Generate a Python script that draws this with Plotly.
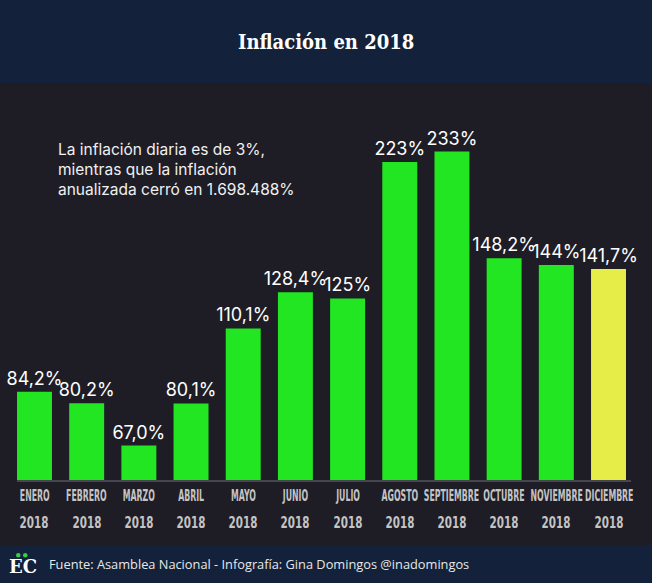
import json
import plotly.graph_objects as go

months = ["ENERO", "FEBRERO", "MARZO", "ABRIL", "MAYO", "JUNIO", "JULIO",
          "AGOSTO", "SEPTIEMBRE", "OCTUBRE", "NOVIEMBRE", "DICIEMBRE"]
years = ["2018"] * 12
values = [84.2, 80.2, 67.0, 80.1, 110.1, 128.4, 125, 223, 233, 148.2, 144, 141.7]
labels = ["84,2%", "80,2%", "67,0%", "80,1%", "110,1%", "128,4%", "125%",
          "223%", "233%", "148,2%", "144%", "141,7%"]
colors = ["#22e622"] * 11 + ["#e6ec48"]

W, H = 652, 583
BASE_PX = 480  # pixel row of the bar baseline
PLOT_BG = "#1e1d26"
BAND = "#13213a"
NARROW = "DejaVu Sans Condensed"

def py(px):
    """pixel row -> paper y (plot area spans pixel 0..BASE_PX)"""
    return (BASE_PX - px) / BASE_PX

fig = go.Figure()
fig.add_trace(go.Bar(
    x=months, y=values, marker=dict(color=colors, line=dict(width=0)),
    text=labels, textposition="outside", cliponaxis=False, constraintext="none",
    textfont=dict(family="Inter", size=18, color="#ffffff"),
    hoverinfo="skip",
))

shapes = [
    dict(type="rect", xref="paper", yref="paper", x0=0, x1=1, y0=py(83), y1=py(0),
         fillcolor=BAND, line=dict(width=0), layer="below"),
    dict(type="rect", xref="paper", yref="paper", x0=0, x1=1, y0=py(583), y1=py(545),
         fillcolor=BAND, line=dict(width=0), layer="below"),
    dict(type="line", xref="paper", yref="paper", x0=17 / W, x1=631 / W,
         y0=py(481), y1=py(481), line=dict(color="#55555c", width=1.5)),
    dict(type="circle", xref="paper", yref="paper", x0=16 / W, x1=20.5 / W,
         y0=py(557.5), y1=py(553), fillcolor="#3fc94a", line=dict(width=0)),
    dict(type="circle", xref="paper", yref="paper", x0=23 / W, x1=27.5 / W,
         y0=py(557.5), y1=py(553), fillcolor="#3fc94a", line=dict(width=0)),
]

annotations = [
    dict(text="<b>Inflación en 2018</b>", xref="paper", yref="paper", x=326 / W, y=py(42),
         showarrow=False, xanchor="center", yanchor="middle",
         font=dict(family="DejaVu Serif Condensed", size=20, color="#ffffff")),
    dict(text="La inflación diaria es de 3%,<br>mientras que la inflación<br>anualizada cerró en 1.698.488%",
         xref="paper", yref="paper", x=56 / W, y=py(138), showarrow=False,
         xanchor="left", yanchor="top", align="left",
         font=dict(family="Inter", size=15.5, color="#f0f0f0")),
    dict(text="<b>EC</b>", xref="paper", yref="paper", x=23 / W, y=py(566),
         showarrow=False, xanchor="center", yanchor="middle",
         font=dict(family="DejaVu Serif", size=18, color="#ffffff")),
    dict(text="Fuente: Asamblea Nacional - Infografía: Gina Domingos @inadomingos",
         xref="paper", yref="paper", x=47 / W, y=py(564), showarrow=False,
         xanchor="left", yanchor="middle",
         font=dict(family="Open Sans", size=12.8, color="#e8e8e8")),
]
for m, yr in zip(months, years):
    annotations.append(dict(text="<b>" + m + "</b>", x=m, xref="x", yref="paper", y=py(496),
                            showarrow=False, xanchor="center", yanchor="middle",
                            font=dict(family=NARROW, size=15.5, color="#c4c4c4")))
    annotations.append(dict(text="<b>" + yr + "</b>", x=m, xref="x", yref="paper", y=py(522),
                            showarrow=False, xanchor="center", yanchor="middle",
                            font=dict(family=NARROW, size=16, color="#c4c4c4")))

fig.update_layout(
    width=W, height=H,
    margin=dict(l=0, r=0, t=0, b=H - BASE_PX, pad=0),
    paper_bgcolor=PLOT_BG, plot_bgcolor=PLOT_BG,
    showlegend=False, bargap=0.33,
    shapes=shapes, annotations=annotations,
    xaxis=dict(domain=[8.4 / W, 634.6 / W], range=[-0.5, 11.5], showticklabels=False,
               showgrid=False, zeroline=False, showline=False, ticks=""),
    yaxis=dict(type="log", range=[1.7627, 2.6464], showticklabels=False,
               showgrid=False, zeroline=False, showline=False, ticks=""),
)

squeeze = json.dumps(months + sorted(set(years)))
post_js = """
document.body.style.margin = '0';
document.body.style.overflow = 'hidden';
var narrow = %s;
document.querySelectorAll('text.annotation-text').forEach(function (t) {
  if (narrow.indexOf(t.textContent) >= 0) {
    t.style.transformBox = 'fill-box';
    t.style.transformOrigin = '50%% 50%%';
    t.style.transform = t.textContent === '2018' ? 'scaleX(0.72)' : 'scaleX(0.56)';
  }
});
""" % squeeze

fig.write_html("out.html", post_script=post_js, config={"displayModeBar": False})
